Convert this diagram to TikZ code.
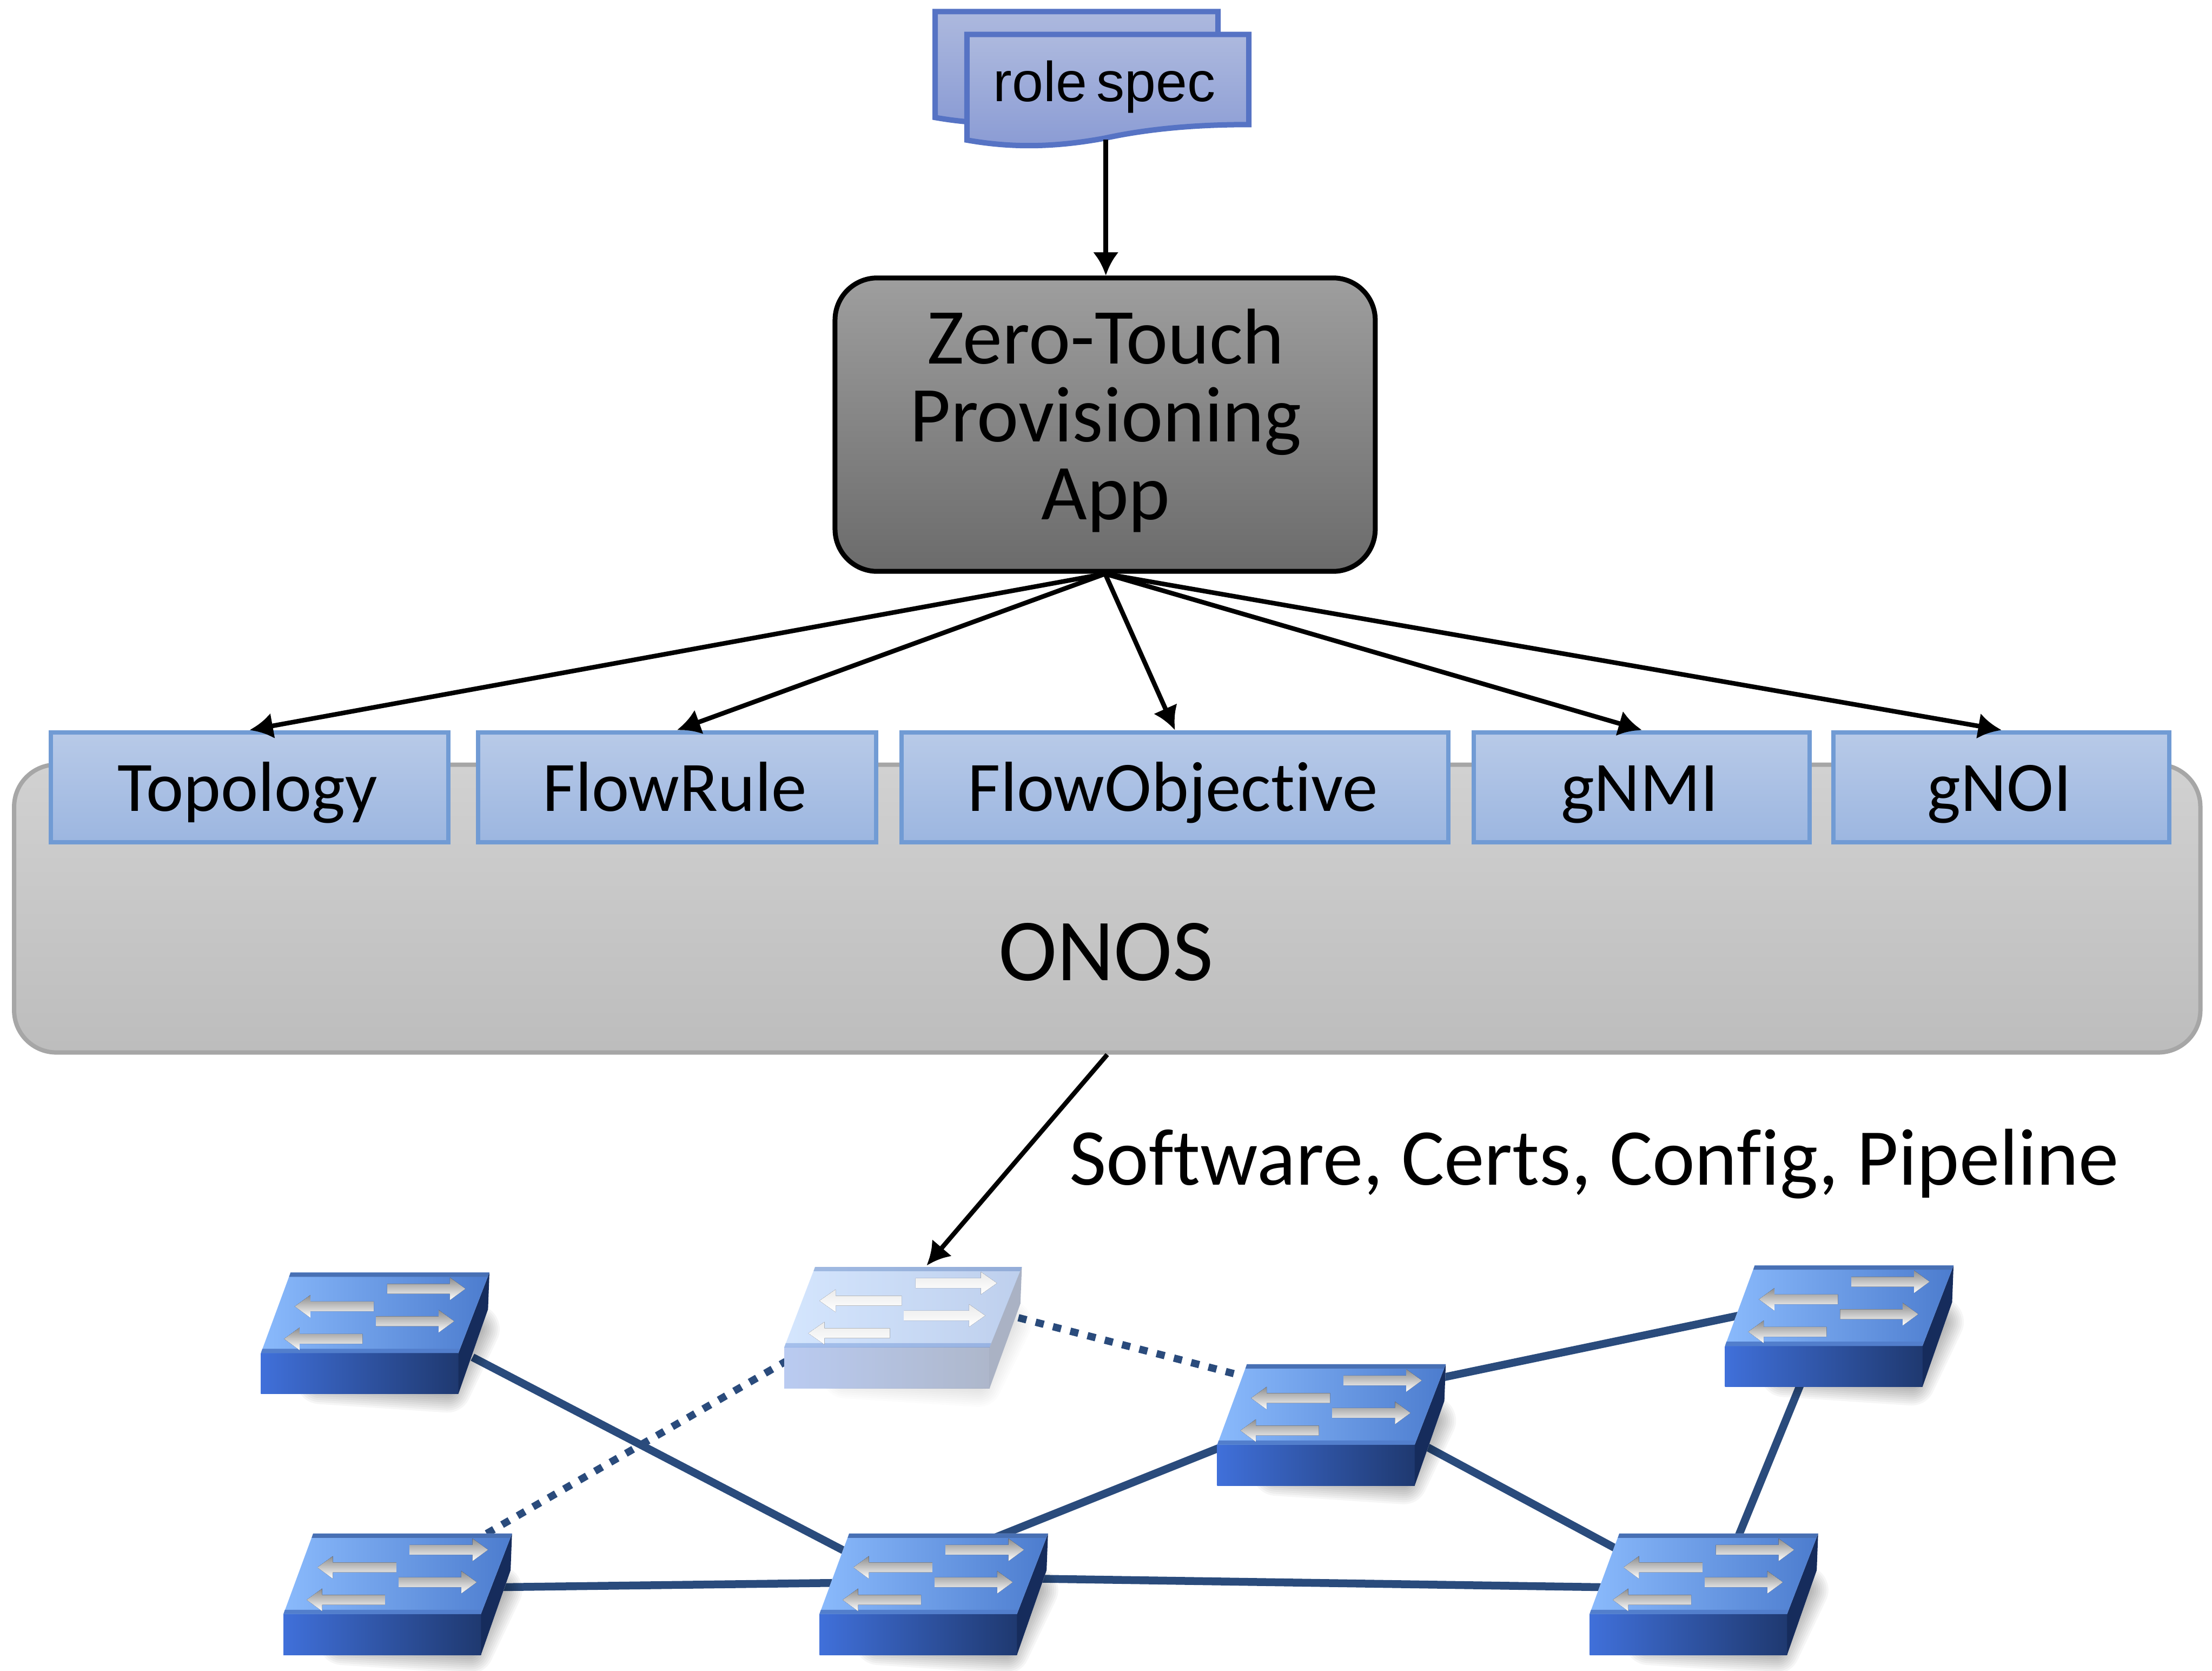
\documentclass[tikz,border=0pt]{standalone}
\usepackage{fontspec}
\setmainfont[Ligatures=CommonOff]{Carlito}
\newfontfamily\arialfont{Liberation Sans}
\usetikzlibrary{arrows.meta,calc}
\definecolor{linkblue}{HTML}{2A4B7C}
\definecolor{docline}{HTML}{5673C4}
\definecolor{doctop}{HTML}{ADB9DE}
\definecolor{docbot}{HTML}{8A9BD4}
\definecolor{apiline}{HTML}{719BD4}
\definecolor{apitop}{HTML}{B8CAE8}
\definecolor{apibot}{HTML}{9CB6E0}
\definecolor{fronta}{HTML}{4070DA}
\definecolor{frontb}{HTML}{1F3970}
\definecolor{sidec}{HTML}{162C5C}
\definecolor{topa}{HTML}{8ABAFC}
\definecolor{topb}{HTML}{4C7CCE}
\definecolor{rimback}{HTML}{4870B4}
\definecolor{rimfront}{HTML}{527ECC}
\tikzset{
  tip/.style={-{Latex[length=4.3mm,width=4.8mm]},line width=0.85mm,black},
  link/.style={line width=1.45mm,linkblue},
  dottedlink/.style={line width=1.35mm,linkblue,dash pattern=on 1.55mm off 1.75mm},
  docshape/.style={line width=1mm,draw=docline,top color=doctop,bottom color=docbot},
  apibox/.style={rectangle,line width=0.8mm,draw=apiline,top color=apitop,bottom color=apibot,inner sep=0pt,minimum height=78*0.2608mm},
  apilabel/.style={inner sep=0pt,font=\fontsize{37.3}{40}\selectfont},
  switchnode/.style={rectangle,inner sep=0pt,minimum width=162*0.2608mm,minimum height=86*0.2608mm},
  swarrowstyle/.style={top color=black!45,middle color=white!88!black,bottom color=white},
  ghostarrowstyle/.style={top color=black!8,bottom color=white},
}
\newcommand{\apilabelbox}[4]{\node[apibox,minimum width={(#3-#2)*0.2608mm}] (#1) at ({(#2+#3)/2},558) {};
  \node[apilabel,anchor=base] (#1text) at ({(#2+#3)/2-1.5},575) {#4};}
\newcommand{\swarrowR}[4]{% x0 x1 y style: arrow pointing right
  \fill[#4]
    (#1,#3-3.5) -- (#2-11,#3-3.5) -- (#2-11,#3-8) -- (#2,#3) -- (#2-11,#3+8) -- (#2-11,#3+3.5) -- (#1,#3+3.5) -- cycle;}
\newcommand{\swarrowL}[4]{% x0 x1 y style: arrow pointing left
  \fill[#4]
    (#2,#3-3.5) -- (#1+11,#3-3.5) -- (#1+11,#3-8) -- (#1,#3) -- (#1+11,#3+8) -- (#1+11,#3+3.5) -- (#2,#3+3.5) -- cycle;}
\newcommand{\switchdraw}[5]{% x y opacity xscale arrowstyle
  \begin{scope}[shift={(#1,#2)},xscale=#4]
    \foreach \w in {1,2,...,12}{
      \draw[black,opacity=#3*0.035,line width=\w*0.75mm,line join=round] (42,-10) -- (132,-4) -- (152,-46) -- (140,-50) -- cycle;
    }
    \fill[white] (0,0) -- (140,0) -- (161,-60) -- (162,-86) -- (21,-86) -- (0,-29) -- cycle;
    \shade[opacity=#3,left color=fronta,right color=frontb] (0,0) -- (140,0) -- (140,-29) -- (0,-29) -- cycle;
    \fill[opacity=#3,color=sidec] (140,0) -- (161,-60) -- (162,-86) -- (140,-29) -- cycle;
    \shade[opacity=#3,left color=topa,right color=topb] (0,-29) -- (140,-29) -- (162,-86) -- (21,-86) -- cycle;
    \fill[opacity=#3,color=rimback] (21,-86) -- (162,-86) -- (160.8,-83) -- (20,-83) -- cycle;
    \fill[opacity=#3,color=rimfront] (0,-29) -- (140,-29) -- (141,-32) -- (1,-32) -- cycle;
    \swarrowR{89.5}{145}{-74.5}{#5}
    \swarrowR{81.6}{137}{-51.5}{#5}
    \swarrowL{24}{80}{-62}{#5}
    \swarrowL{16.4}{72}{-39}{#5}
  \end{scope}}
\begin{document}
\begin{tikzpicture}[x=0.2608mm,y=-0.2608mm]
\useasboundingbox (0,0) rectangle (1568.25,1184.05);

% role spec documents
\path[docshape] (663,8.2) -- (863.5,8.2) -- (863.5,72.3) .. controls (827.5,72.3) and (792.5,75) .. (760.5,82) .. controls (722.5,89) and (692.5,88.5) .. (663,83.3) -- cycle;
\path[docshape] (685.5,24.4) -- (885.4,24.4) -- (885.4,88.3) .. controls (850,88.3) and (815,91) .. (783,98) .. controls (745,105) and (715,104.5) .. (685.5,99.3) -- cycle;
\node[inner sep=0pt,anchor=base,font=\arialfont\fontsize{29.6}{32}\selectfont] (roletext) at (783,72) {role\hspace{0.17em}spec};
\coordinate (rolefoot) at (784,99);

% app
\node[rectangle,rounded corners=7.8mm,line width=0.9mm,draw=black,top color=black!38,bottom color=black!58,minimum width=383*0.2608mm,minimum height=208*0.2608mm,inner sep=0pt] (app) at (783.5,301) {};
\node[align=center,inner sep=0pt,font=\fontsize{41.6}{41}\selectfont] (apptext) at (784,298) {Zero-Touch\\Provisioning\\App};

% ONOS
\node[rectangle,rounded corners=7.8mm,line width=0.8mm,draw=black!35,top color=black!18,bottom color=black!26,minimum width=1550*0.2608mm,minimum height=204*0.2608mm,inner sep=0pt] (onos) at (785,644) {};
\node[inner sep=0pt,font=\fontsize{46.5}{50}\selectfont] (onostext) at (784,675) {ONOS};

% API boxes
\apilabelbox{topo}{36}{318}{Topology}
\apilabelbox{flowrule}{339}{621}{FlowRule}
\apilabelbox{flowobj}{639}{1027}{FlowObjective}
\apilabelbox{gnmi}{1045}{1283}{gNMI}
\apilabelbox{gnoi}{1300}{1538}{gNOI}

% arrows
\draw[tip] (rolefoot) -- (rolefoot |- app.north);
\draw[tip] (app.south) -- (topo.north);
\draw[tip] (app.south) -- (flowrule.north);
\draw[tip] (app.south) -- (flowobj.north);
\draw[tip] (app.south) -- (gnmi.north);
\draw[tip] (app.south) -- (gnoi.north);

\node[inner sep=0pt,anchor=base west,font=\fontsize{42.4}{46}\selectfont] (payload) at (758,840) {Software, Certs, Config, Pipeline};

% switch anchors
\node[switchnode] (s1) at (266,945) {};
\node[switchnode] (s2) at (640,941) {};
\node[switchnode] (s3) at (944,1010) {};
\node[switchnode] (s4) at (1304,940) {};
\node[switchnode] (s5) at (282,1130) {};
\node[switchnode] (s6) at (662,1130) {};
\node[switchnode] (s7) at (1208,1130) {};
\coordinate (ghostin) at (657,897);
\draw[tip] (onos.south) -- (ghostin);

% links
\draw[link] ([shift={(69,17)}]s1.center) -- ([shift={(-62,-30)}]s6.center);
\draw[dottedlink] ([shift={(63,-43)}]s5.center) -- ([shift={(-83,24)}]s2.center);
\draw[dottedlink] ([shift={(82,-7)}]s2.center) -- ([shift={(-64,-35)}]s3.center);
\draw[link] ([shift={(71,-32)}]s3.center) -- ([shift={(-69,-8)}]s4.center);
\draw[link] ([shift={(-27,40)}]s4.center) -- ([shift={(24,-40)}]s7.center);
\draw[link] ([shift={(61,12)}]s3.center) -- ([shift={(-58,-30)}]s7.center);
\draw[link] ([shift={(-74,14)}]s3.center) -- ([shift={(43,-40)}]s6.center);
\draw[link] ([shift={(73,-5)}]s5.center) -- ([shift={(-72,-8)}]s6.center);
\draw[link] ([shift={(73,-11)}]s6.center) -- ([shift={(-73,-5)}]s7.center);

% switches
\switchdraw{185}{988}{1}{1}{swarrowstyle}
\switchdraw{556}{984}{0.36}{1.04}{ghostarrowstyle}
\switchdraw{863}{1053}{1}{1}{swarrowstyle}
\switchdraw{1223}{983}{1}{1}{swarrowstyle}
\switchdraw{201}{1173}{1}{1}{swarrowstyle}
\switchdraw{581}{1173}{1}{1}{swarrowstyle}
\switchdraw{1127}{1173}{1}{1}{swarrowstyle}
\end{tikzpicture}
\end{document}
